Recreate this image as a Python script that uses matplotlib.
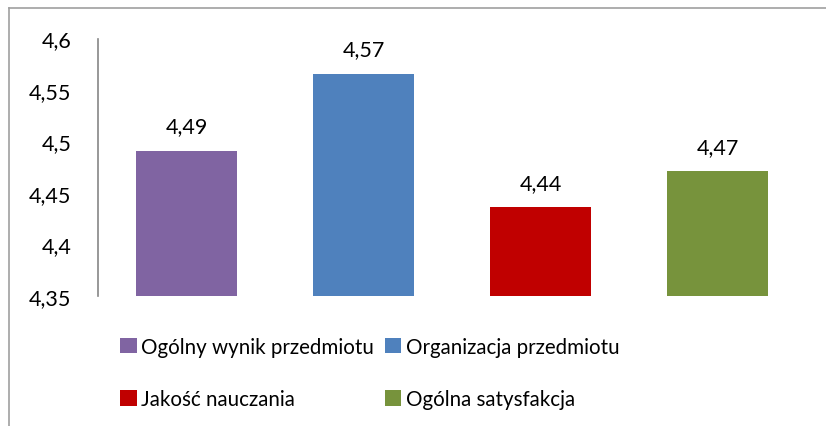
import matplotlib
matplotlib.use("Agg")
import matplotlib.pyplot as plt
from matplotlib.patches import Patch
from matplotlib.lines import Line2D

categories = ["Ogólny wynik przedmiotu", "Organizacja przedmiotu",
              "Jakość nauczania", "Ogólna satysfakcja"]
values = [4.491, 4.566, 4.436, 4.471]
colors = ["#8064A2", "#4F81BD", "#C00000", "#77933C"]
yticks = [4.35, 4.4, 4.45, 4.5, 4.55, 4.6]

plt.rcParams['font.family'] = ['Lato', 'DejaVu Sans']

W, H = 826, 427
fig = plt.figure(figsize=(W / 100, H / 100), dpi=100)
ax = fig.add_axes([98 / W, 1 - 297 / H, (806 - 98) / W, (297 - 39.5) / H])

x = list(range(len(categories)))
ax.bar(x, [v - yticks[0] for v in values], bottom=yticks[0], width=0.576, color=colors)
for xi, v in zip(x, values):
    ax.text(xi, v + 0.014, f"{v:.2f}".replace(".", ","), ha="center", va="bottom",
            fontsize=15.5, color="#000000")

ax.set_xlim(-0.5, len(categories) - 0.5)
ax.set_ylim(yticks[0], yticks[-1])
ax.set_yticks(yticks)
ax.set_yticklabels([f"{t:g}".replace(".", ",") for t in yticks], fontsize=15.5)
ax.tick_params(axis="y", length=0, pad=19)
ax.set_xticks([])
for s in ["top", "right", "bottom"]:
    ax.spines[s].set_visible(False)
ax.spines["left"].set_color("#868686")
ax.spines["left"].set_linewidth(1.2)

order = [0, 2, 1, 3]
handles = [Patch(facecolor=colors[i], edgecolor="none") for i in order]
labels = [categories[i] for i in order]
fig.legend(handles, labels, ncol=2, loc="center left", bbox_to_anchor=(110 / W, 1 - 374 / H),
           frameon=False, fontsize=14.8, handlelength=0.8, handleheight=0.8,
           handletextpad=0.2, columnspacing=0.55, labelspacing=1.6, borderpad=0)

# outer frame (left & top visible)
fig.add_artist(Line2D([9 / W, 9 / W], [0, 1 - 9 / H], color="#A0A0A0", lw=1.2,
                      transform=fig.transFigure))
fig.add_artist(Line2D([9 / W, 1], [1 - 9 / H, 1 - 9 / H], color="#A0A0A0", lw=1.2,
                      transform=fig.transFigure))

fig.savefig("out.png", dpi=100)
